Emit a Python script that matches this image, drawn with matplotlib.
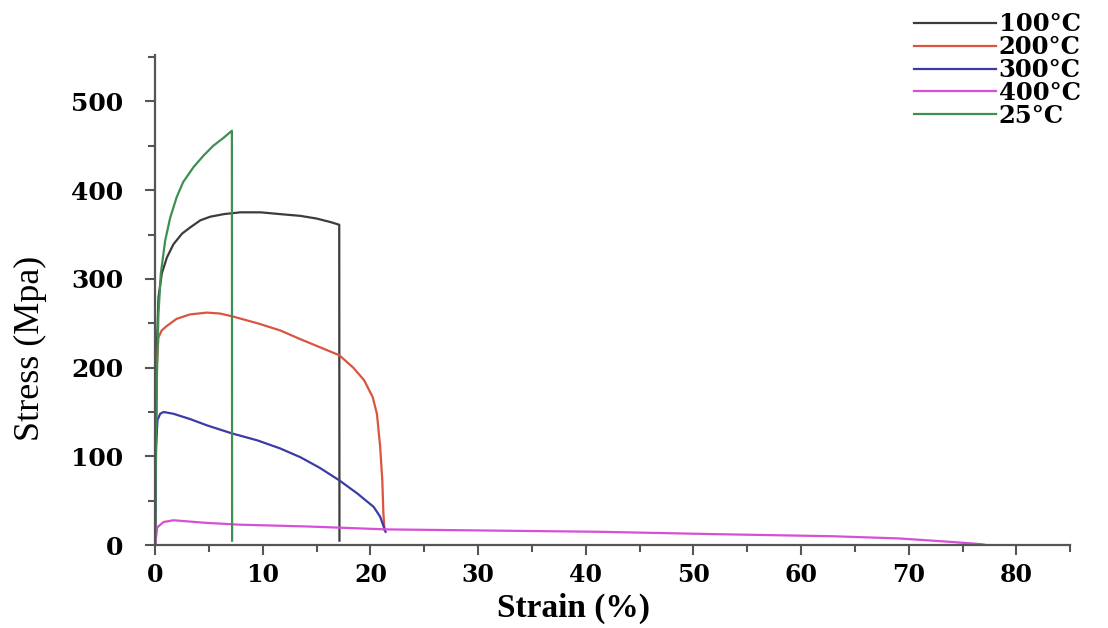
import numpy as np
import matplotlib
matplotlib.use("Agg")
import matplotlib.pyplot as plt
from matplotlib.ticker import MultipleLocator

# stress-strain curves (strain %, stress MPa)
strain_100 = [0, 0.08, 0.16, 0.31, 0.62, 1.09, 1.7, 2.5, 3.26, 4.2, 5.1, 6.4, 7.9, 9.8, 11.6, 13.5, 15.0, 16.3, 17.1, 17.12]
stress_100 = [0, 120, 223, 279, 306, 324, 339, 351, 358, 366, 370, 373, 375, 375, 373, 371, 368, 364, 361, 5]

strain_200 = [0, 0.08, 0.16, 0.31, 0.62, 1.09, 2.0, 3.26, 4.8, 6.0, 7.1, 9.5, 11.6, 13.5, 15.3, 17.1,
              18.4, 19.4, 20.2, 20.6, 20.9, 21.1, 21.2, 21.3]
stress_200 = [0, 120, 204, 234, 242, 247, 255, 260, 262, 261, 258, 250, 242, 232, 223, 214,
              200, 186, 167, 148, 111, 73, 36, 17]

strain_300 = [0, 0.05, 0.09, 0.22, 0.47, 0.78, 1.7, 3.26, 4.8, 7.1, 9.5, 11.6, 13.5, 15.3, 17.1, 18.8, 20.3, 20.9, 21.4]
stress_300 = [0, 60, 111, 141, 148, 150, 148, 142, 135, 126, 118, 109, 99, 87, 73, 58, 43, 32, 15]

strain_400 = [0, 0.2, 0.78, 1.7, 4.8, 7.9, 14.1, 21.5, 41.3, 51.8, 62.9, 69.1, 73.8, 76.8, 77.2]
stress_400 = [0, 20, 26, 28, 25, 23, 21, 17.7, 15, 12.4, 10, 7.5, 3.7, 1, 0]

strain_25 = [0, 0.08, 0.16, 0.31, 0.53, 0.93, 1.4, 2.0, 2.6, 3.57, 4.5, 5.4, 6.36, 7.13, 7.15]
stress_25 = [0, 110, 186, 261, 306, 343, 369, 392, 409, 426, 439, 450, 459, 467, 5]

labels = ["100°C", "200°C", "300°C", "400°C", "25°C"]
colors = ["#3c3c3c", "#d9553f", "#3b3ba6", "#d64fd6", "#3f8f52"]

plt.rcParams['font.family'] = ['Liberation Serif', 'DejaVu Serif']

fig = plt.figure(figsize=(11.08, 6.28), dpi=100)
ax = fig.add_axes([0.14, 0.132, 0.826, 0.78])

curves = [(strain_100, stress_100), (strain_200, stress_200), (strain_300, stress_300),
          (strain_400, stress_400), (strain_25, stress_25)]
for (sx, sy), lab, col in zip(curves, labels, colors):
    ax.plot(sx, sy, color=col, lw=1.6, label=lab)

ax.set_xlim(0, 85)
ax.set_ylim(0, 552)
ax.xaxis.set_major_locator(MultipleLocator(10))
ax.xaxis.set_minor_locator(MultipleLocator(5))
ax.yaxis.set_major_locator(MultipleLocator(100))
ax.yaxis.set_minor_locator(MultipleLocator(50))

for s in ["top", "right"]:
    ax.spines[s].set_visible(False)
for s in ["left", "bottom"]:
    ax.spines[s].set_color("#555555")
    ax.spines[s].set_linewidth(1.6)

ax.tick_params(which="both", direction="out", color="#555555", width=1.5)
ax.tick_params(which="major", length=7)
ax.tick_params(which="minor", length=5)
ax.tick_params(axis="y", pad=16)
ax.tick_params(axis="x", pad=6)
for t in ax.get_yticklabels():
    t.set_fontfamily("DejaVu Serif")
    t.set_fontweight("bold")
    t.set_fontsize(18)
for t in ax.get_xticklabels():
    t.set_fontfamily("DejaVu Serif")
    t.set_fontweight("bold")
    t.set_fontsize(17)

ax.set_xlabel("Strain (%)", fontsize=24, fontweight="bold")
ax.xaxis.set_label_coords(0.457, -0.097)
ax.set_ylabel("Stress (Mpa)", fontsize=26)
ax.yaxis.set_label_coords(-0.118, 0.402)

fig.legend(loc="upper right", bbox_to_anchor=(0.995, 1.015), frameon=False,
           handlelength=3.4, handletextpad=0.1, labelspacing=-0.05,
           prop={'family': 'DejaVu Serif', 'weight': 'bold', 'size': 17.5})

fig.savefig("out.png", dpi=100)
